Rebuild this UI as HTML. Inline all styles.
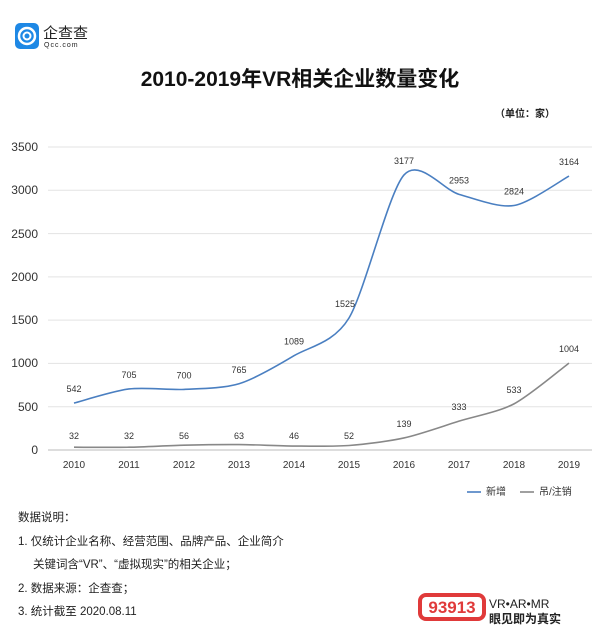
<!DOCTYPE html>
<html><head><meta charset="utf-8"><style>
body{margin:0;background:#fff;font-family:"Liberation Sans","Noto Sans CJK SC",sans-serif;}
.w{position:relative;width:600px;height:638px;overflow:hidden;}
</style></head><body><div class="w">
<svg width="600" height="638" xmlns="http://www.w3.org/2000/svg" font-family="Liberation Sans, Noto Sans CJK SC, sans-serif">
<rect x="15" y="23" width="24" height="26" rx="5" fill="#1e88e5"/>
<circle cx="27" cy="36" r="8" fill="none" stroke="#fff" stroke-width="2.5"/>
<circle cx="27" cy="36" r="3.5" fill="none" stroke="#fff" stroke-width="2"/>
<text x="43" y="38" font-size="15" fill="#222">企查查</text>
<text x="44" y="47" font-size="7" fill="#222" letter-spacing="1">Qcc.com</text>
<text x="300" y="86" font-size="21" font-weight="bold" text-anchor="middle" fill="#111">2010-2019年VR相关企业数量变化</text>
<text x="555" y="117" font-size="10" font-weight="bold" text-anchor="end" fill="#222">（单位：家）</text>
<g stroke="#e3e3e3" stroke-width="1">
<line x1="48" x2="592" y1="147" y2="147"/><line x1="48" x2="592" y1="190.3" y2="190.3"/><line x1="48" x2="592" y1="233.6" y2="233.6"/><line x1="48" x2="592" y1="276.9" y2="276.9"/><line x1="48" x2="592" y1="320.1" y2="320.1"/><line x1="48" x2="592" y1="363.4" y2="363.4"/><line x1="48" x2="592" y1="406.7" y2="406.7"/>
</g>
<line x1="48" x2="592" y1="450" y2="450" stroke="#bbb"/>
<g font-size="12" fill="#333" text-anchor="end">
<text x="38" y="151">3500</text><text x="38" y="194">3000</text><text x="38" y="238">2500</text><text x="38" y="281">2000</text><text x="38" y="324">1500</text><text x="38" y="367">1000</text><text x="38" y="411">500</text><text x="38" y="454">0</text>
</g>
<g font-size="10" fill="#333" text-anchor="middle" id="xl"></g>
<path id="pb" fill="none" stroke="#4a7fc1" stroke-width="1.6"/>
<path id="pg" fill="none" stroke="#888" stroke-width="1.6"/>
<g font-size="9" fill="#333" text-anchor="middle" id="lb"></g>
<line x1="467" x2="481" y1="492" y2="492" stroke="#4a7fc1" stroke-width="1.6"/>
<text x="486" y="495" font-size="10" fill="#333">新增</text>
<line x1="520" x2="534" y1="492" y2="492" stroke="#888" stroke-width="1.6"/>
<text x="539" y="495" font-size="10" fill="#333">吊/注销</text>
<g font-size="11.5" fill="#222">
<text x="18" y="521">数据说明：</text>
<text x="18" y="545">1. 仅统计企业名称、经营范围、品牌产品、企业简介</text>
<text x="33" y="568">关键词含“VR”、“虚拟现实”的相关企业；</text>
<text x="18" y="592">2. 数据来源：企查查；</text>
<text x="18" y="615">3. 统计截至 2020.08.11</text>
</g>
<rect x="418" y="593" width="68" height="28" rx="8" fill="#e03a3a"/>
<rect x="422" y="597" width="60" height="20" rx="4" fill="#fff"/>
<text x="452" y="613" font-size="17" font-weight="bold" fill="#e03a3a" text-anchor="middle">93913</text>
<text x="489" y="608" font-size="12" fill="#222">VR•AR•MR</text>
<text x="489" y="623" font-size="12" font-weight="bold" fill="#222">眼见即为真实</text>
</svg>
<script>
var xs=[74,129,184,239,294,349,404,459,514,569],yrs=[2010,2011,2012,2013,2014,2015,2016,2017,2018,2019];
var b=[542,705,700,765,1089,1525,3177,2953,2824,3164],g=[32,32,56,63,46,52,139,333,533,1004];
function Y(v){return 450-v*303/3500}
function path(a){var p=a.map((v,i)=>[xs[i],Y(v)]),d="M"+p[0][0]+","+p[0][1];
for(var i=0;i<p.length-1;i++){var p0=p[i-1]||p[i],p1=p[i],p2=p[i+1],p3=p[i+2]||p2,t=0.14;
d+=" C"+(p1[0]+(p2[0]-p0[0])*t)+","+(p1[1]+(p2[1]-p0[1])*t)+" "+(p2[0]-(p3[0]-p1[0])*t)+","+(p2[1]-(p3[1]-p1[1])*t)+" "+p2[0]+","+p2[1];}return d}
document.getElementById("pb").setAttribute("d",path(b));
document.getElementById("pg").setAttribute("d",path(g));
var ns="http://www.w3.org/2000/svg",lb=document.getElementById("lb"),xl=document.getElementById("xl");
function t(par,x,y,s){var e=document.createElementNS(ns,"text");e.setAttribute("x",x);e.setAttribute("y",y);e.textContent=s;par.appendChild(e)}
xs.forEach((x,i)=>{t(xl,x,468,yrs[i]);t(lb,i==5?x-4:x,Y(b[i])-11,b[i]);t(lb,x,(i<6?439:Y(g[i])-11),g[i]);});
</script>
</div></body></html>
